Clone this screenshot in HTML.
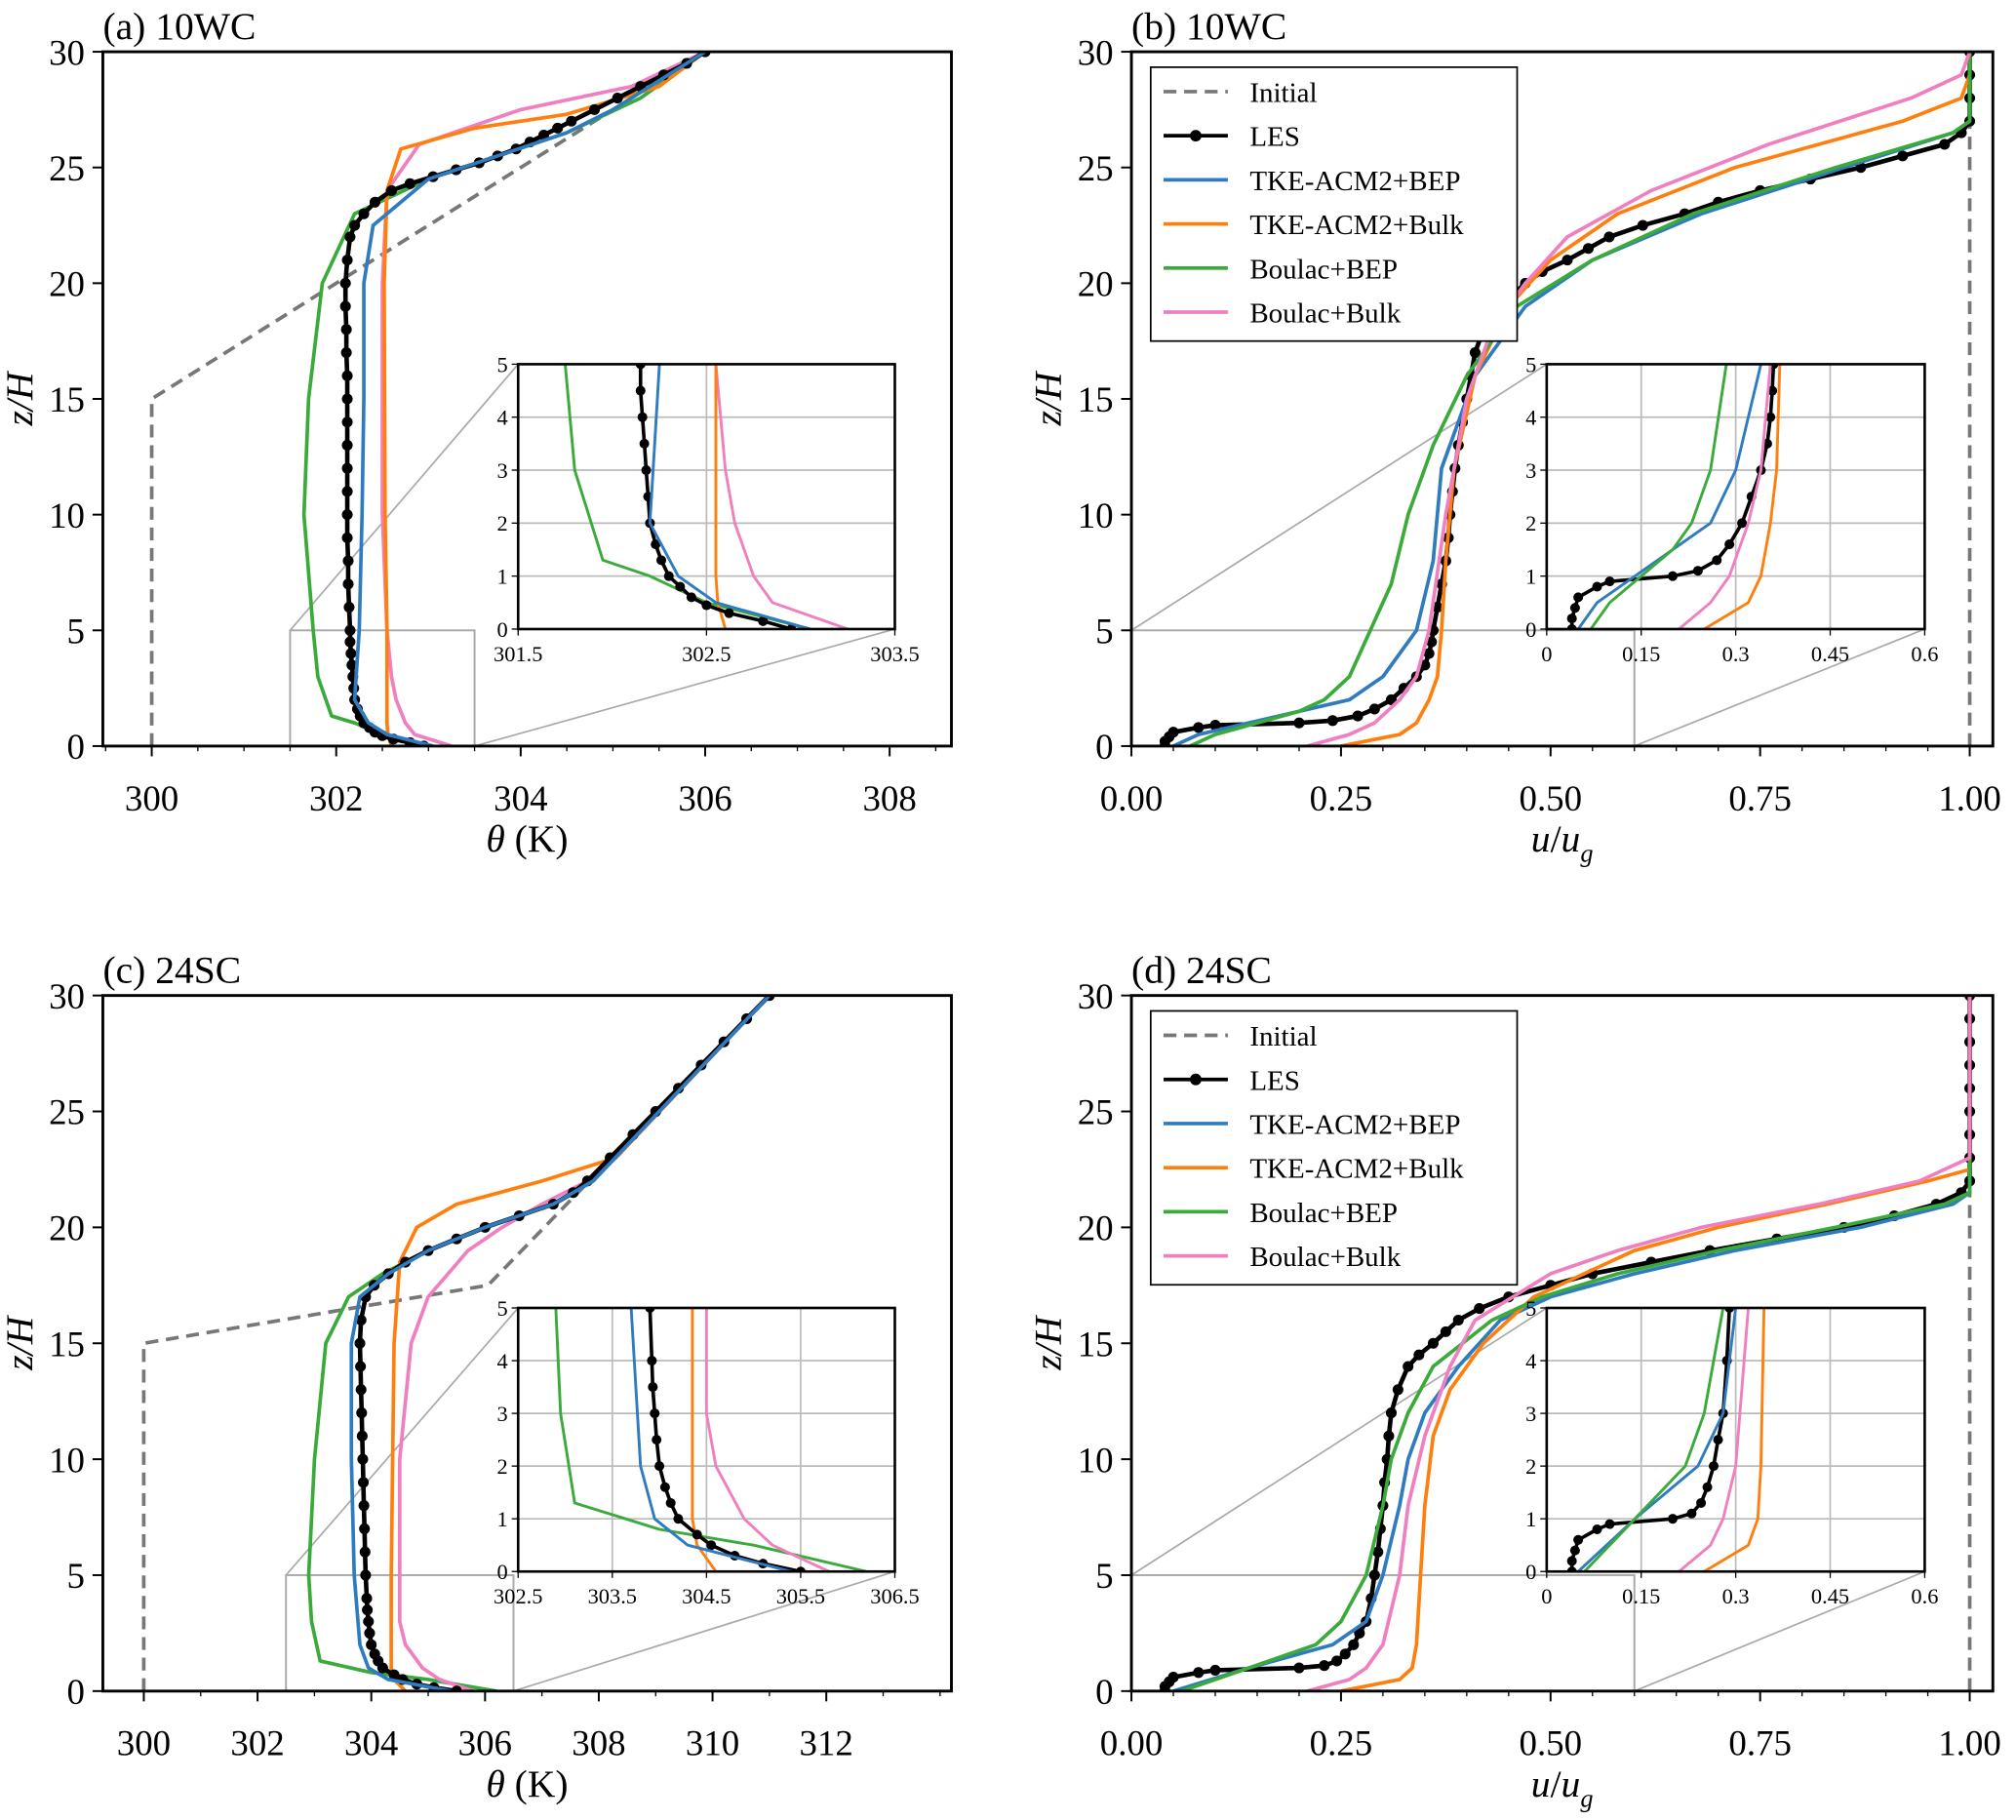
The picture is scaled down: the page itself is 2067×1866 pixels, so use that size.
<!DOCTYPE html>
<html><head><meta charset="utf-8"><style>
html,body{margin:0;padding:0;background:#fff;}
svg{display:block;}
text{font-family:"Liberation Serif",serif;fill:#000;}
</style></head><body>
<svg id="fig" width="2067" height="1866" viewBox="0 0 1568 1415" xmlns="http://www.w3.org/2000/svg"></svg>
<script>
// ---------- DATA ----------
const zA_les=[0,0.15,0.3,0.45,0.6,0.8,1,1.3,1.6,2,2.5,3,3.5,4,4.5,5,6,7,8,9,10,11,12,13,14,15,16,17,18,19,20,21,22,22.5,23,23.5,24,24.3,24.6,24.9,25.2,25.5,25.8,26.1,26.4,26.7,27,27.5,28,28.5,29,29.5,30];
const tA_les=[302.95,302.8,302.62,302.5,302.42,302.36,302.3,302.26,302.23,302.2,302.19,302.18,302.17,302.16,302.15,302.15,302.14,302.13,302.13,302.12,302.12,302.12,302.12,302.12,302.12,302.12,302.12,302.11,302.11,302.1,302.1,302.12,302.15,302.2,302.3,302.42,302.6,302.8,303.05,303.3,303.55,303.75,303.95,304.1,304.25,304.4,304.55,304.8,305.05,305.3,305.55,305.8,306.0];
const zA_tb=[0,0.5,1,2,5,10,15,20,22.5,24.5,26.5,27.5,30];
const tA_tb=[303.05,302.55,302.35,302.2,302.25,302.28,302.3,302.3,302.4,303.0,304.5,305.0,306.0];
const zA_to=[0,0.5,1,5,10,20,24,25.8,26.7,27.3,28.5,30];
const tA_to=[302.6,302.56,302.55,302.55,302.53,302.52,302.55,302.7,303.5,304.5,305.5,306.0];
const zA_gb=[0,0.5,1,1.3,3,5,10,15,20,23,24.5,26.5,28,30];
const tA_gb=[303.05,302.5,302.2,301.95,301.8,301.75,301.65,301.7,301.85,302.2,303.0,304.5,305.3,306.0];
const zA_pk=[0,0.5,1,2,3,5,10,20,24,26,27.5,28.5,30];
const tA_pk=[303.25,302.85,302.75,302.65,302.6,302.55,302.5,302.5,302.55,302.9,304.0,305.2,306.0];
const zA_init=[0,15,30];
const tA_init=[300,300,306];

const zB_les=[0,0.2,0.4,0.6,0.8,0.9,1.0,1.1,1.3,1.6,2,2.5,3,3.5,4,4.5,5,6,7,8,9,10,11,12,13,14,15,16,17,18,19,20,20.5,21,21.5,22,22.5,23,23.5,24,24.5,25,25.5,26,26.5,27,28,29,30];
const uB_les=[0.04,0.04,0.045,0.05,0.08,0.1,0.2,0.24,0.27,0.29,0.31,0.325,0.34,0.35,0.355,0.358,0.36,0.365,0.37,0.375,0.378,0.38,0.383,0.386,0.39,0.395,0.4,0.405,0.41,0.42,0.44,0.47,0.49,0.52,0.545,0.57,0.61,0.66,0.7,0.75,0.81,0.87,0.92,0.97,0.99,1.0,1.0,1.0,1.0];
const zB_tb=[0,0.5,1,2,3,5,8,12,16,19,21,23,25,26.5,27,30];
const uB_tb=[0.05,0.08,0.14,0.26,0.3,0.34,0.36,0.37,0.41,0.47,0.55,0.68,0.85,0.98,1.0,1.0];
const zB_to=[0,0.5,1,2,3,5,8,12,16,19,21,23,25,27,28,29,30];
const uB_to=[0.25,0.32,0.34,0.355,0.365,0.37,0.375,0.385,0.41,0.45,0.5,0.58,0.72,0.92,0.99,1.0,1.0];
const zB_gb=[0,0.5,1,1.5,2,3,5,7,10,13,16,19,21,23,25,26.5,27,30];
const uB_gb=[0.07,0.1,0.15,0.2,0.23,0.26,0.285,0.31,0.33,0.36,0.4,0.46,0.55,0.67,0.84,0.98,1.0,1.0];
const zB_pk=[0,0.5,1,2,3,5,10,15,18,20,22,24,26,28,29,30];
const uB_pk=[0.21,0.26,0.29,0.32,0.34,0.355,0.375,0.4,0.43,0.47,0.52,0.62,0.76,0.93,0.99,1.0];
const zB_init=[0,30];
const uB_init=[1,1];

const zC_les=[0,0.15,0.3,0.5,0.7,1,1.3,1.6,2,2.5,3,3.5,4,5,6,7,8,9,10,11,12,13,14,15,16,17,17.5,18,18.5,19,19.5,20,20.5,21,21.5,22,23,24,25,26,27,28,29,30];
const tC_les=[305.5,305.1,304.8,304.55,304.4,304.2,304.12,304.06,304.0,303.97,303.95,303.93,303.92,303.9,303.89,303.88,303.87,303.86,303.85,303.84,303.83,303.82,303.81,303.8,303.82,303.9,304.05,304.3,304.6,305.0,305.5,306.0,306.6,307.2,307.55,307.8,308.2,308.6,309.0,309.4,309.8,310.2,310.6,311.0];
const zC_tb=[0,0.5,1,2,5,10,15,17,18,19,20,21,22,30];
const tC_tb=[305.4,304.3,303.95,303.8,303.7,303.65,303.65,303.8,304.3,305.0,306.0,307.2,307.9,311.0];
const zC_to=[0,0.5,1,5,15,18.5,20,21,22,23,30];
const tC_to=[304.6,304.4,304.35,304.35,304.4,304.5,304.8,305.5,307.0,308.3,311.0];
const zC_gb=[0,0.5,0.8,1.3,3,5,10,15,17,18,19,20,21,22,30];
const tC_gb=[306.2,305.0,304.0,303.1,302.95,302.9,303.0,303.2,303.6,304.2,305.0,306.0,307.2,307.9,311.0];
const zC_pk=[0,0.5,1,2,3,5,10,15,17,19,20,21,22,23,30];
const tC_pk=[305.8,305.2,304.9,304.6,304.5,304.5,304.5,304.7,305.0,305.7,306.3,307.0,307.8,308.3,311.0];
const zC_init=[0,15,17.5,30];
const tC_init=[300,300,306.05,311];

const zD_les=[0,0.2,0.4,0.6,0.8,0.9,1.0,1.1,1.3,1.6,2,2.5,3,4,5,6,7,8,9,10,11,12,13,14,14.5,15,15.5,16,16.5,17,17.5,18,18.5,19,19.5,20,20.5,21,21.5,22,23,24,25,26,27,28,29,30];
const uD_les=[0.04,0.04,0.045,0.05,0.08,0.1,0.2,0.23,0.245,0.255,0.265,0.272,0.28,0.286,0.29,0.294,0.297,0.3,0.302,0.305,0.307,0.31,0.318,0.33,0.343,0.36,0.375,0.39,0.415,0.45,0.5,0.55,0.62,0.69,0.77,0.85,0.91,0.96,0.99,1.0,1.0,1.0,1.0,1.0,1.0,1.0,1.0,1.0];
const zD_tb=[0,1,2,3,5,8,10,12,14,16,17,18,19,20,21,21.5,30];
const uD_tb=[0.05,0.14,0.24,0.28,0.3,0.32,0.33,0.35,0.39,0.44,0.5,0.6,0.72,0.87,0.98,1.0,1.0];
const zD_to=[0,0.5,1,2,5,8,11,13,15,17,19,20,21,22,22.5,30];
const uD_to=[0.25,0.32,0.335,0.34,0.345,0.35,0.36,0.38,0.42,0.48,0.6,0.7,0.83,0.95,1.0,1.0];
const zD_gb=[0,1,2,3,5,8,10,12,14,16,17,18,19,20,21,21.5,30];
const uD_gb=[0.06,0.14,0.22,0.25,0.28,0.3,0.31,0.33,0.36,0.43,0.49,0.58,0.7,0.84,0.97,1.0,1.0];
const zD_pk=[0,0.5,1,2,5,8,11,14,16,18,19,20,21,22,23,30];
const uD_pk=[0.21,0.26,0.28,0.3,0.32,0.33,0.35,0.38,0.41,0.5,0.58,0.68,0.82,0.94,1.0,1.0];
const zD_init=[0,30];
const uD_init=[1,1];

const legendLabels=["Initial","LES","TKE-ACM2+BEP","TKE-ACM2+Bulk","Boulac+BEP","Boulac+Bulk"];
const C={init:"#777",les:"#000",tb:"#2f7bbf",to:"#ff7f0e",gb:"#3aaa3a",pk:"#f07fc0"};

// ---------- DRAW ----------
const NS="http://www.w3.org/2000/svg";
const svg=document.getElementById('fig');
function el(tag,attrs,parent){const e=document.createElementNS(NS,tag);for(const k in attrs)e.setAttribute(k,attrs[k]);(parent||svg).appendChild(e);return e;}
function txt(s,x,y,size,anchor,parent,italic){const t=el('text',{x:x,y:y,'font-size':size,'text-anchor':anchor||'middle'},parent);if(italic)t.setAttribute('font-style','italic');t.textContent=s;return t;}
let clipId=0;
function panel(p){
  const g=el('g',{});
  
  
  const sx=v=>p.x0+(v-p.xmin)/(p.xmax-p.xmin)*(p.x1-p.x0);
  const sy=v=>p.y1-(v-0)/30*(p.y1-p.y0);
  p.xticks.forEach((v,i)=>{const X=sx(v);el('line',{x1:X,x2:X,y1:p.y1,y2:p.y1+8,stroke:'#000','stroke-width':1.5},g);
    const t=txt(p.xlabels[i],X,p.y1+50,28,'middle',g);});
  p.xminor.forEach(v=>{const X=sx(v);el('line',{x1:X,x2:X,y1:p.y1,y2:p.y1+4,stroke:'#000','stroke-width':1},g);});
  [0,5,10,15,20,25,30].forEach(v=>{const Y=sy(v);el('line',{x1:p.x0-8,x2:p.x0,y1:Y,y2:Y,stroke:'#000','stroke-width':1.5},g);
    const t=txt(String(v),p.x0-14,Y+10,28,'end',g);});
  const yl=txt('z/H',0,0,30,'middle',g,true);yl.setAttribute('transform',`translate(${p.x0-55},${(p.y0+p.y1)/2}) rotate(-90)`);
  
  const xl=el('text',{x:(p.x0+p.x1)/2,y:p.y1+82,'font-size':30,'text-anchor':'middle'},g);
  
  xl.innerHTML=p.xtitle;
  const tt=txt(p.title,p.x0,p.y0-10,30,'start',g);
  const ins=p.inset;
  const rx0=sx(ins.xmin),rx1=sx(ins.xmax),ry0=sy(5),ry1=sy(0);
  const zr=el('rect',{x:rx0,y:ry0,width:rx1-rx0,height:ry1-ry0,fill:'none',stroke:'#aaa','stroke-width':1.5},g);
  
  el('line',{x1:rx0,y1:ry0,x2:ins.x0,y2:ins.y0,stroke:'#aaa','stroke-width':1.3},g);
  el('line',{x1:rx1,y1:ry1,x2:ins.x1,y2:ins.y1,stroke:'#aaa','stroke-width':1.3},g);
  const cid='c'+(clipId++);const cp=el('clipPath',{id:cid},g);el('rect',{x:p.x0,y:p.y0,width:p.x1-p.x0,height:p.y1-p.y0},cp);
  const cg=el('g',{'clip-path':`url(#${cid})`},g);
  drawSeries(cg,p.series,sx,sy,2.8,4.2);
  const ig=el('g',{},g);
  
  el('rect',{x:ins.x0,y:ins.y0,width:ins.x1-ins.x0,height:ins.y1-ins.y0,fill:'#fff'},ig);
  const isx=v=>ins.x0+(v-ins.xmin)/(ins.xmax-ins.xmin)*(ins.x1-ins.x0);
  const isy=v=>ins.y1-v/5*(ins.y1-ins.y0);
  ins.xticks.forEach((v,i)=>{const X=isx(v);
    if(i>0&&i<ins.xticks.length-1)el('line',{x1:X,x2:X,y1:ins.y0,y2:ins.y1,stroke:'#bbb','stroke-width':1.3},ig);
    el('line',{x1:X,x2:X,y1:ins.y1,y2:ins.y1+5,stroke:'#000','stroke-width':1},ig);
    const t=txt(ins.xlabels[i],X,ins.y1+25,17,'middle',ig);});
  [0,1,2,3,4,5].forEach(v=>{const Y=isy(v);
    if(v>0&&v<5)el('line',{x1:ins.x0,x2:ins.x1,y1:Y,y2:Y,stroke:'#bbb','stroke-width':1.3},ig);
    el('line',{x1:ins.x0-5,x2:ins.x0,y1:Y,y2:Y,stroke:'#000','stroke-width':1},ig);
    txt(String(v),ins.x0-8,Y+6,17,'end',ig);});
  const cid2='c'+(clipId++);const cp2=el('clipPath',{id:cid2},ig);el('rect',{x:ins.x0,y:ins.y0,width:ins.x1-ins.x0,height:ins.y1-ins.y0},cp2);
  const icg=el('g',{'clip-path':`url(#${cid2})`},ig);
  drawSeries(icg,p.series.filter(s=>s.key!=='init'),isx,isy,2.2,3.8);
  el('rect',{x:ins.x0,y:ins.y0,width:ins.x1-ins.x0,height:ins.y1-ins.y0,fill:'none',stroke:'#000','stroke-width':2},ig);
  el('rect',{x:p.x0,y:p.y0,width:p.x1-p.x0,height:p.y1-p.y0,fill:'none',stroke:'#000','stroke-width':2.2},g);
  if(p.legend)legend(g,p.x0+15,p.y0+12);
}
function drawSeries(g,series,sx,sy,w,r){
  series.forEach(s=>{
    const pts=s.x.map((v,i)=>sx(v).toFixed(1)+','+sy(s.z[i]).toFixed(1)).join(' ');
    const pl=el('polyline',{points:pts,fill:'none',stroke:C[s.key],'stroke-width':s.key==='les'?w*1.25:w,'stroke-linejoin':'round'},g);
    if(s.key==='init')pl.setAttribute('stroke-dasharray','10,6');
    
    
    if(s.key==='les')s.x.forEach((v,i)=>{const c=el('circle',{cx:sx(v),cy:sy(s.z[i]),r:r,fill:'#000'},g);
      
      });
  });
}
function legend(g,x,y){
  const lg=el('g',{},g);
  
  
  el('rect',{x:x,y:y,width:285,height:213,fill:'#fff',stroke:'#000','stroke-width':1.3},lg);
  const keys=['init','les','tb','to','gb','pk'];
  legendLabels.forEach((lab,i)=>{const Y=y+19+i*34.3;
    const e=el('g',{},lg);
    
    
    const l=el('line',{x1:x+10,x2:x+60,y1:Y,y2:Y,stroke:C[keys[i]],'stroke-width':2.8},e);
    if(i===0)l.setAttribute('stroke-dasharray','10,6');
    if(i===1)el('circle',{cx:x+35,cy:Y,r:4.5,fill:'#000'},e);
    txt(lab,x+77,Y+8,22,'start',e);});
}
function S(key,z,x){return {key,z,x};}
const thetaTitle='<tspan font-style="italic">θ</tspan> (K)';
const uTitle='<tspan font-style="italic">u</tspan>/<tspan font-style="italic">u</tspan><tspan font-style="italic" font-size="20" dy="8">g</tspan>';
const r=(a,b,s)=>{const o=[];for(let v=a;v<=b+1e-9;v+=s)o.push(+v.toFixed(3));return o;};
panel({name:'panel-a',title:'(a) 10WC',x0:80,x1:740,y0:40,y1:580,xmin:299.47,xmax:308.67,
  xticks:[300,302,304,306,308],xlabels:['300','302','304','306','308'],xminor:r(299.5,308.5,0.5),xtitle:thetaTitle,
  inset:{x0:403,x1:696,y0:283,y1:489,xmin:301.5,xmax:303.5,xticks:[301.5,302.5,303.5],xlabels:['301.5','302.5','303.5']},
  series:[S('init',zA_init,tA_init),S('gb',zA_gb,tA_gb),S('pk',zA_pk,tA_pk),S('to',zA_to,tA_to),S('les',zA_les,tA_les),S('tb',zA_tb,tA_tb)]});
panel({name:'panel-b',title:'(b) 10WC',x0:880,x1:1550,y0:40,y1:580,xmin:0,xmax:1.0276,
  xticks:[0,0.25,0.5,0.75,1],xlabels:['0.00','0.25','0.50','0.75','1.00'],xminor:r(0,1,0.05),xtitle:uTitle,legend:true,
  inset:{x0:1203,x1:1497,y0:283,y1:489,xmin:0,xmax:0.6,xticks:[0,0.15,0.3,0.45,0.6],xlabels:['0','0.15','0.3','0.45','0.6']},
  series:[S('init',zB_init,uB_init),S('les',zB_les,uB_les),S('tb',zB_tb,uB_tb),S('to',zB_to,uB_to),S('gb',zB_gb,uB_gb),S('pk',zB_pk,uB_pk)]});
panel({name:'panel-c',title:'(c) 24SC',x0:80,x1:740,y0:774,y1:1315,xmin:299.28,xmax:314.2,
  xticks:[300,302,304,306,308,310,312],xlabels:['300','302','304','306','308','310','312'],xminor:r(300,314,1),xtitle:thetaTitle,
  inset:{x0:403,x1:696,y0:1017,y1:1222,xmin:302.5,xmax:306.5,xticks:[302.5,303.5,304.5,305.5,306.5],xlabels:['302.5','303.5','304.5','305.5','306.5']},
  series:[S('init',zC_init,tC_init),S('gb',zC_gb,tC_gb),S('pk',zC_pk,tC_pk),S('to',zC_to,tC_to),S('les',zC_les,tC_les),S('tb',zC_tb,tC_tb)]});
panel({name:'panel-d',title:'(d) 24SC',x0:880,x1:1550,y0:774,y1:1315,xmin:0,xmax:1.0276,
  xticks:[0,0.25,0.5,0.75,1],xlabels:['0.00','0.25','0.50','0.75','1.00'],xminor:r(0,1,0.05),xtitle:uTitle,legend:true,
  inset:{x0:1203,x1:1497,y0:1017,y1:1222,xmin:0,xmax:0.6,xticks:[0,0.15,0.3,0.45,0.6],xlabels:['0','0.15','0.3','0.45','0.6']},
  series:[S('init',zD_init,uD_init),S('les',zD_les,uD_les),S('tb',zD_tb,uD_tb),S('to',zD_to,uD_to),S('gb',zD_gb,uD_gb),S('pk',zD_pk,uD_pk)]});
</script>
</body></html>
